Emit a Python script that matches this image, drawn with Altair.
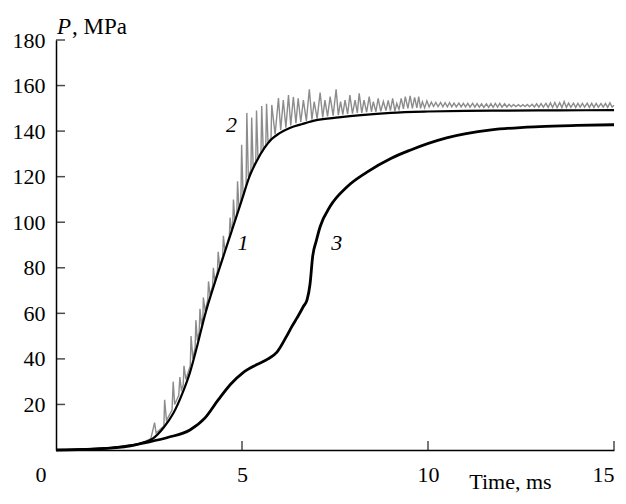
import altair as alt
import pandas as pd

FONT = "Liberation Serif"

# ---- axis ticks / labels ----
x_ticks = [5, 10, 15]
x_labels = [0, 5, 10, 15]
y_ticks = [20, 40, 60, 80, 100, 120, 140, 160, 180]

# ---- curve 1 (black, smooth) ----
t1 = [0, 0.5, 1.0, 1.5, 2.0, 2.3, 2.6, 2.9, 3.15, 3.4, 3.6, 3.8, 4.0, 4.3, 4.6, 4.8,
      5.0, 5.2, 5.4, 5.6, 5.8, 6.0, 6.3, 6.6, 7.0, 7.6, 8.2, 9.0, 10.0, 11.0, 12.0, 13.5, 15.0]
p1 = [0, 0.2, 0.5, 1.0, 2.0, 3.0, 5.0, 10.0, 16.0, 25.0, 34.0, 46.0, 59.0, 75.0, 90.0, 100.0,
      110.0, 120.0, 127.0, 132.5, 136.5, 139.0, 141.5, 143.0, 144.8, 146.0, 147.0, 148.0, 148.6,
      148.9, 149.0, 149.1, 149.2]

# ---- curve 3 (black) ----
t3 = [0, 1.0, 2.0, 2.34, 3.0, 3.6, 4.0, 4.36, 4.7, 5.03, 5.4, 5.7, 5.94, 6.2, 6.35, 6.48,
      6.65, 6.75, 6.83, 6.9, 7.0, 7.1, 7.37, 7.82, 8.36, 9.0, 9.5, 10.5, 11.7, 13.0, 14.0, 15.0]
p3 = [0, 0.4, 1.8, 3.0, 5.5, 8.8, 14.0, 22.0, 29.0, 34.0, 37.5, 40.0, 43.0, 50.0, 54.5, 58.0,
      63.0, 66.0, 73.0, 85.0, 92.0, 98.0, 107.0, 115.5, 122.0, 128.0, 131.5, 137.0, 140.5,
      142.0, 142.5, 142.8]

# ---- curve 2 (grey, oscillating) : rise and spikes ----
t2_a = [0, 0.5, 1.0, 1.5, 2.0, 2.3, 2.55, 2.65, 2.69, 2.90, 2.92, 2.97, 3.12, 3.15, 3.19,
        3.30, 3.33, 3.37, 3.42, 3.44, 3.49, 3.61, 3.63, 3.68, 3.74, 3.76, 3.80, 3.85, 3.87,
        3.91, 3.95, 3.96, 4.01, 4.08, 4.10, 4.14, 4.21, 4.23, 4.27, 4.34, 4.36, 4.40, 4.48,
        4.50, 4.54, 4.66, 4.68, 4.72, 4.75, 4.77, 4.81, 4.86, 4.88, 4.92, 4.97, 4.99, 5.03,
        5.11, 5.13, 5.17, 5.24, 5.26, 5.30, 5.37, 5.39, 5.43, 5.51, 5.53, 5.57, 5.64, 5.66,
        5.70, 5.78, 5.80, 5.89, 5.98, 6.04, 6.11, 6.18, 6.25, 6.31, 6.38, 6.45, 6.51, 6.58,
        6.65, 6.73, 6.81, 6.88, 6.94, 7.02, 7.10, 7.17, 7.23, 7.30, 7.37, 7.45, 7.53, 7.59,
        7.65, 7.71, 7.77, 7.84, 7.90, 7.97, 8.04, 8.10, 8.15, 8.22, 8.28, 8.35, 8.42, 8.48,
        8.53, 8.60, 8.66, 8.73, 8.80, 8.87, 8.93, 8.99, 9.05, 9.11, 9.16, 9.22, 9.28, 9.34,
        9.39, 9.46, 9.52, 9.58, 9.64, 9.70, 9.75, 9.80, 9.85, 9.91, 9.97, 10.03]
p2_a = [0, 0.2, 0.5, 1.0, 2.0, 3.0, 5.0, 12.0, 7.5, 10.5, 22.0, 13.0, 17.5, 30.0, 20.0,
        24.0, 32.0, 26.5, 28.5, 37.0, 31.0, 37.0, 50.0, 40.0, 45.0, 57.0, 48.0, 52.0, 62.0,
        55.0, 58.5, 67.0, 61.0, 66.0, 74.0, 68.0, 72.0, 80.0, 74.0, 78.5, 87.0, 80.5, 85.0,
        94.0, 87.5, 94.0, 102.0, 96.0, 98.0, 110.0, 100.5, 103.0, 118.0, 106.0, 109.0, 134.0, 111.5,
        116.0, 148.0, 120.0, 123.0, 146.0, 124.5, 126.5, 149.0, 128.0, 130.5, 151.0, 132.0, 134.0, 152.0,
        135.0, 137.0, 151.5, 138.5, 154.5, 140.5, 153.6, 141.5, 155.8, 142.5, 155.0, 143.5, 154.4, 144.0,
        153.6, 144.5, 158.3, 145.0, 152.9, 145.5, 156.9, 146.0, 153.6, 146.5, 155.1, 146.8, 158.3, 147.0,
        152.9, 147.2, 153.6, 147.5, 155.8, 147.7, 153.6, 148.0, 156.6, 148.0, 153.6, 148.3, 155.1, 148.5,
        152.9, 148.5, 154.4, 148.7, 153.0, 149.0, 153.5, 149.0, 154.4, 148.8, 152.2, 149.5, 154.4, 149.8,
        155.1, 150.0, 155.5, 150.0, 154.8, 150.2, 155.1, 150.0, 152.9, 150.2, 153.3, 150.6]

# ---- curve 2 : small ringing after 10 ms (peaks and troughs) ----
peak_t = [10.09, 10.21, 10.34, 10.46, 10.58, 10.70, 10.83, 10.95, 11.07, 11.20, 11.32, 11.44,
          11.57, 11.69, 11.81, 11.93, 12.06, 12.18, 12.30, 12.43, 12.55, 12.67, 12.80, 12.92,
          13.04, 13.17, 13.29, 13.41, 13.54, 13.66, 13.78, 13.91, 14.03, 14.15, 14.28, 14.40,
          14.52, 14.65, 14.77, 14.89]
peak_p = [152.7, 152.6, 152.6, 152.5, 152.5, 152.3, 152.3, 152.2, 152.2, 152.2, 152.1, 152.0,
          152.0, 152.1, 152.2, 152.2, 152.0, 151.8, 151.7, 151.6, 151.6, 151.7, 151.8, 152.0,
          152.1, 152.2, 152.4, 152.6, 152.5, 153.0, 152.3, 152.3, 152.2, 152.2, 152.3, 152.2,
          152.2, 152.1, 152.2, 152.4]
trough_t = [10.15, 10.27, 10.40, 10.52, 10.64, 10.76, 10.89, 11.01, 11.13, 11.26, 11.38, 11.50,
            11.63, 11.75, 11.87, 11.99, 12.12, 12.24, 12.36, 12.49, 12.61, 12.73, 12.86, 12.98,
            13.10, 13.23, 13.35, 13.47, 13.60, 13.72, 13.84, 13.97, 14.09, 14.21, 14.34, 14.46,
            14.58, 14.71, 14.83, 14.95, 15.0]
trough_p = [150.8, 150.8, 150.7, 150.7, 150.7, 150.6, 150.6, 150.6, 150.5, 150.5, 150.5, 150.4,
            150.4, 150.4, 150.5, 150.5, 150.6, 150.7, 150.8, 150.8, 150.8, 150.7, 150.6, 150.5,
            150.5, 150.4, 150.4, 150.3, 150.3, 150.4, 150.4, 150.4, 150.5, 150.5, 150.4, 150.4,
            150.5, 150.5, 150.4, 150.5, 151.3]

# ---- curve labels ----
lab_t = [5.03, 4.72, 7.55]
lab_p = [91.0, 142.7, 91.0]
lab_txt = ["1", "2", "3"]

# ---------------- build tables ----------------
df1 = pd.DataFrame({"t": t1, "p": p1})
df3 = pd.DataFrame({"t": t3, "p": p3})
df2 = pd.concat([
    pd.DataFrame({"t": t2_a, "p": p2_a}),
    pd.DataFrame({"t": peak_t, "p": peak_p}),
    pd.DataFrame({"t": trough_t, "p": trough_p}),
]).sort_values("t").reset_index(drop=True)
df2["o"] = range(len(df2))

x_scale = alt.Scale(domain=[0, 15], nice=False, zero=False)
y_scale = alt.Scale(domain=[0, 180], nice=False, zero=False)

x_axis = alt.Axis(
    values=x_labels, ticks=False, tickSize=0, grid=False,
    domainColor="black", domainWidth=1.5,
    labelFont=FONT, labelFontSize=22, labelColor="black",
    labelBaseline="alphabetic", labelPadding=31, labelFlush=True,
    labelOffset={"condition": {"test": "datum.value == 0", "value": -21}, "value": 0},
    title="Time, ms", titleFont=FONT, titleFontSize=22, titleFontWeight="normal",
    titleColor="black", titleX=454, titleY=38, titleAlign="center",
    titleBaseline="alphabetic", format="d",
)
y_axis = alt.Axis(
    values=y_ticks, ticks=False, tickSize=0, grid=False,
    domainColor="black", domainWidth=1.5,
    labelFont=FONT, labelFontSize=22, labelColor="black",
    labelPadding=11, labelFlush=False, title=None, format="d",
)

base_x = alt.X("t:Q", scale=x_scale, axis=x_axis)
base_y = alt.Y("p:Q", scale=y_scale, axis=y_axis)

grey = alt.Chart(df2).mark_line(color="#8c8c8c", strokeWidth=1.4).encode(
    x=base_x, y=base_y, order="o:Q")
c1 = alt.Chart(df1).mark_line(color="black", strokeWidth=2.2, interpolate="monotone").encode(
    x=alt.X("t:Q", scale=x_scale), y=alt.Y("p:Q", scale=y_scale))
c3 = alt.Chart(df3).mark_line(color="black", strokeWidth=2.8, interpolate="monotone").encode(
    x=alt.X("t:Q", scale=x_scale), y=alt.Y("p:Q", scale=y_scale))

xt = alt.Chart(pd.DataFrame({"t": x_ticks})).mark_tick(
    orient="vertical", size=9, thickness=1.5, color="black", yOffset=-4.5
).encode(x=alt.X("t:Q", scale=x_scale), y=alt.datum(0))
yt = alt.Chart(pd.DataFrame({"p": y_ticks})).mark_tick(
    orient="horizontal", size=9, thickness=1.5, color="black", xOffset=4.5
).encode(y=alt.Y("p:Q", scale=y_scale), x=alt.datum(0))

labels = alt.Chart(pd.DataFrame({"t": lab_t, "p": lab_p, "txt": lab_txt})).mark_text(
    font=FONT, fontSize=22, fontStyle="italic", color="black",
    align="center", baseline="middle"
).encode(x=alt.X("t:Q", scale=x_scale), y=alt.Y("p:Q", scale=y_scale), text="txt:N")

corner = pd.DataFrame({"t": [0], "p": [180]})
ytitle_p = alt.Chart(corner).mark_text(
    text="P", font=FONT, fontSize=23, fontStyle="italic", color="black",
    align="left", baseline="alphabetic", dx=1, dy=-6
).encode(x=alt.X("t:Q", scale=x_scale), y=alt.Y("p:Q", scale=y_scale))
ytitle_u = alt.Chart(corner).mark_text(
    text=", MPa", font=FONT, fontSize=23, color="black",
    align="left", baseline="alphabetic", dx=16, dy=-6
).encode(x=alt.X("t:Q", scale=x_scale), y=alt.Y("p:Q", scale=y_scale))

chart = alt.layer(grey, c1, c3, xt, yt, labels, ytitle_p, ytitle_u).properties(
    width=558, height=410,
    autosize=alt.AutoSizeParams(type="none"),
    padding={"left": 48, "top": 32, "right": 4, "bottom": 46},
    background="white",
).configure_view(stroke=None)

chart.save("out.html", embed_options={"renderer": "svg", "actions": False})
